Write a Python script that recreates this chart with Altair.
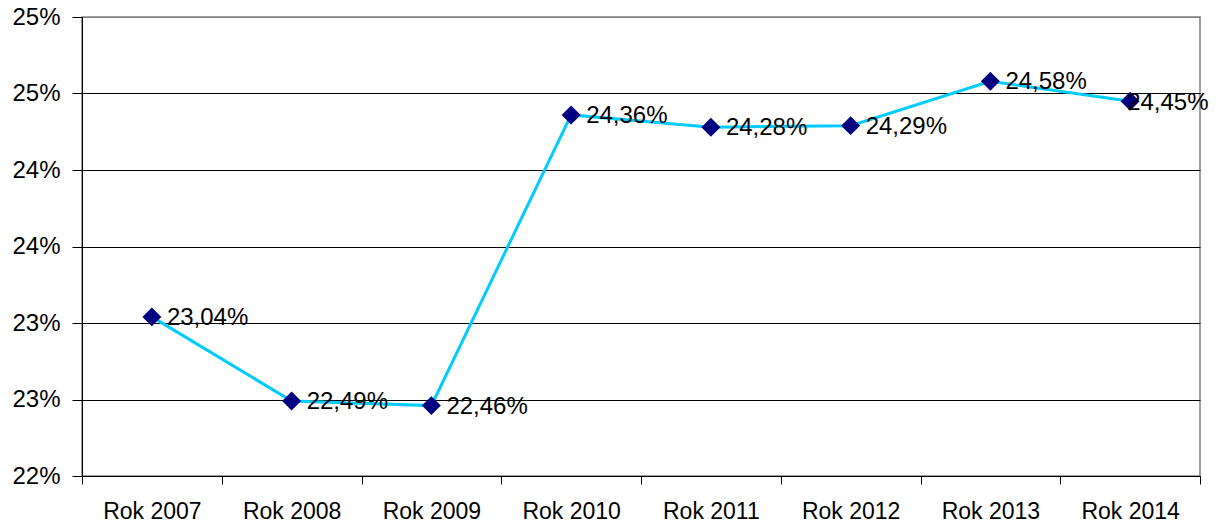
import altair as alt
import pandas as pd

years = ["Rok 2007", "Rok 2008", "Rok 2009", "Rok 2010", "Rok 2011", "Rok 2012", "Rok 2013", "Rok 2014"]
values = [23.04, 22.49, 22.46, 24.36, 24.28, 24.29, 24.58, 24.45]
y_ticks = [22.0, 22.5, 23.0, 23.5, 24.0, 24.5, 25.0]

df = pd.DataFrame({"year": years, "value": values})

FONT = "Liberation Sans"

x = alt.X("year:N", sort=years, title=None,
          scale=alt.Scale(type="band", paddingInner=0, paddingOuter=0),
          axis=alt.Axis(labelAngle=0, labelFont=FONT, labelFontSize=23, labelColor="black",
                        domainColor="black", tickColor="black", tickSize=8, tickBand="extent",
                        labelPadding=16, grid=False))
y = alt.Y("value:Q", title=None,
          scale=alt.Scale(domain=[22, 25], nice=False, zero=False),
          axis=alt.Axis(values=y_ticks, labelExpr="round(datum.value) + '%'",
                        labelFont=FONT, labelFontSize=24, labelColor="black",
                        domainColor="black", tickColor="black", tickSize=10, labelPadding=12,
                        grid=True, gridColor=alt.expr("datum.value == 25 ? '#808080' : 'black'"),
                        gridWidth=1))

base = alt.Chart(df).encode(x=x, y=y)

line = base.mark_line(color="#00CCFF", strokeWidth=3)
points = base.mark_point(shape="diamond", filled=True, color="#000080", size=360, opacity=1)
label_calc = "replace(format(datum.value, '.2f'), '.', ',') + '%'"
labels = base.mark_text(align="left", baseline="middle", dx=15, dy=1, font=FONT,
                        fontSize=24, color="black").encode(
    text=alt.Text("label:N")).transform_filter(
    alt.datum.year != years[-1]).transform_calculate(label=label_calc)
last_label = base.mark_text(align="left", baseline="middle", dx=-3, dy=2, font=FONT,
                            fontSize=24, color="black").encode(
    text=alt.Text("label:N")).transform_filter(
    alt.datum.year == years[-1]).transform_calculate(label=label_calc)

chart = (line + points + labels + last_label).properties(
    width=1118, height=459,
    autosize=alt.AutoSizeParams(type="none"),
    padding={"left": 74, "top": 9, "right": 16, "bottom": 50},
).configure_view(stroke="#808080", strokeWidth=1.5)

chart.save("out.html", embed_options={"renderer": "svg", "actions": False})
